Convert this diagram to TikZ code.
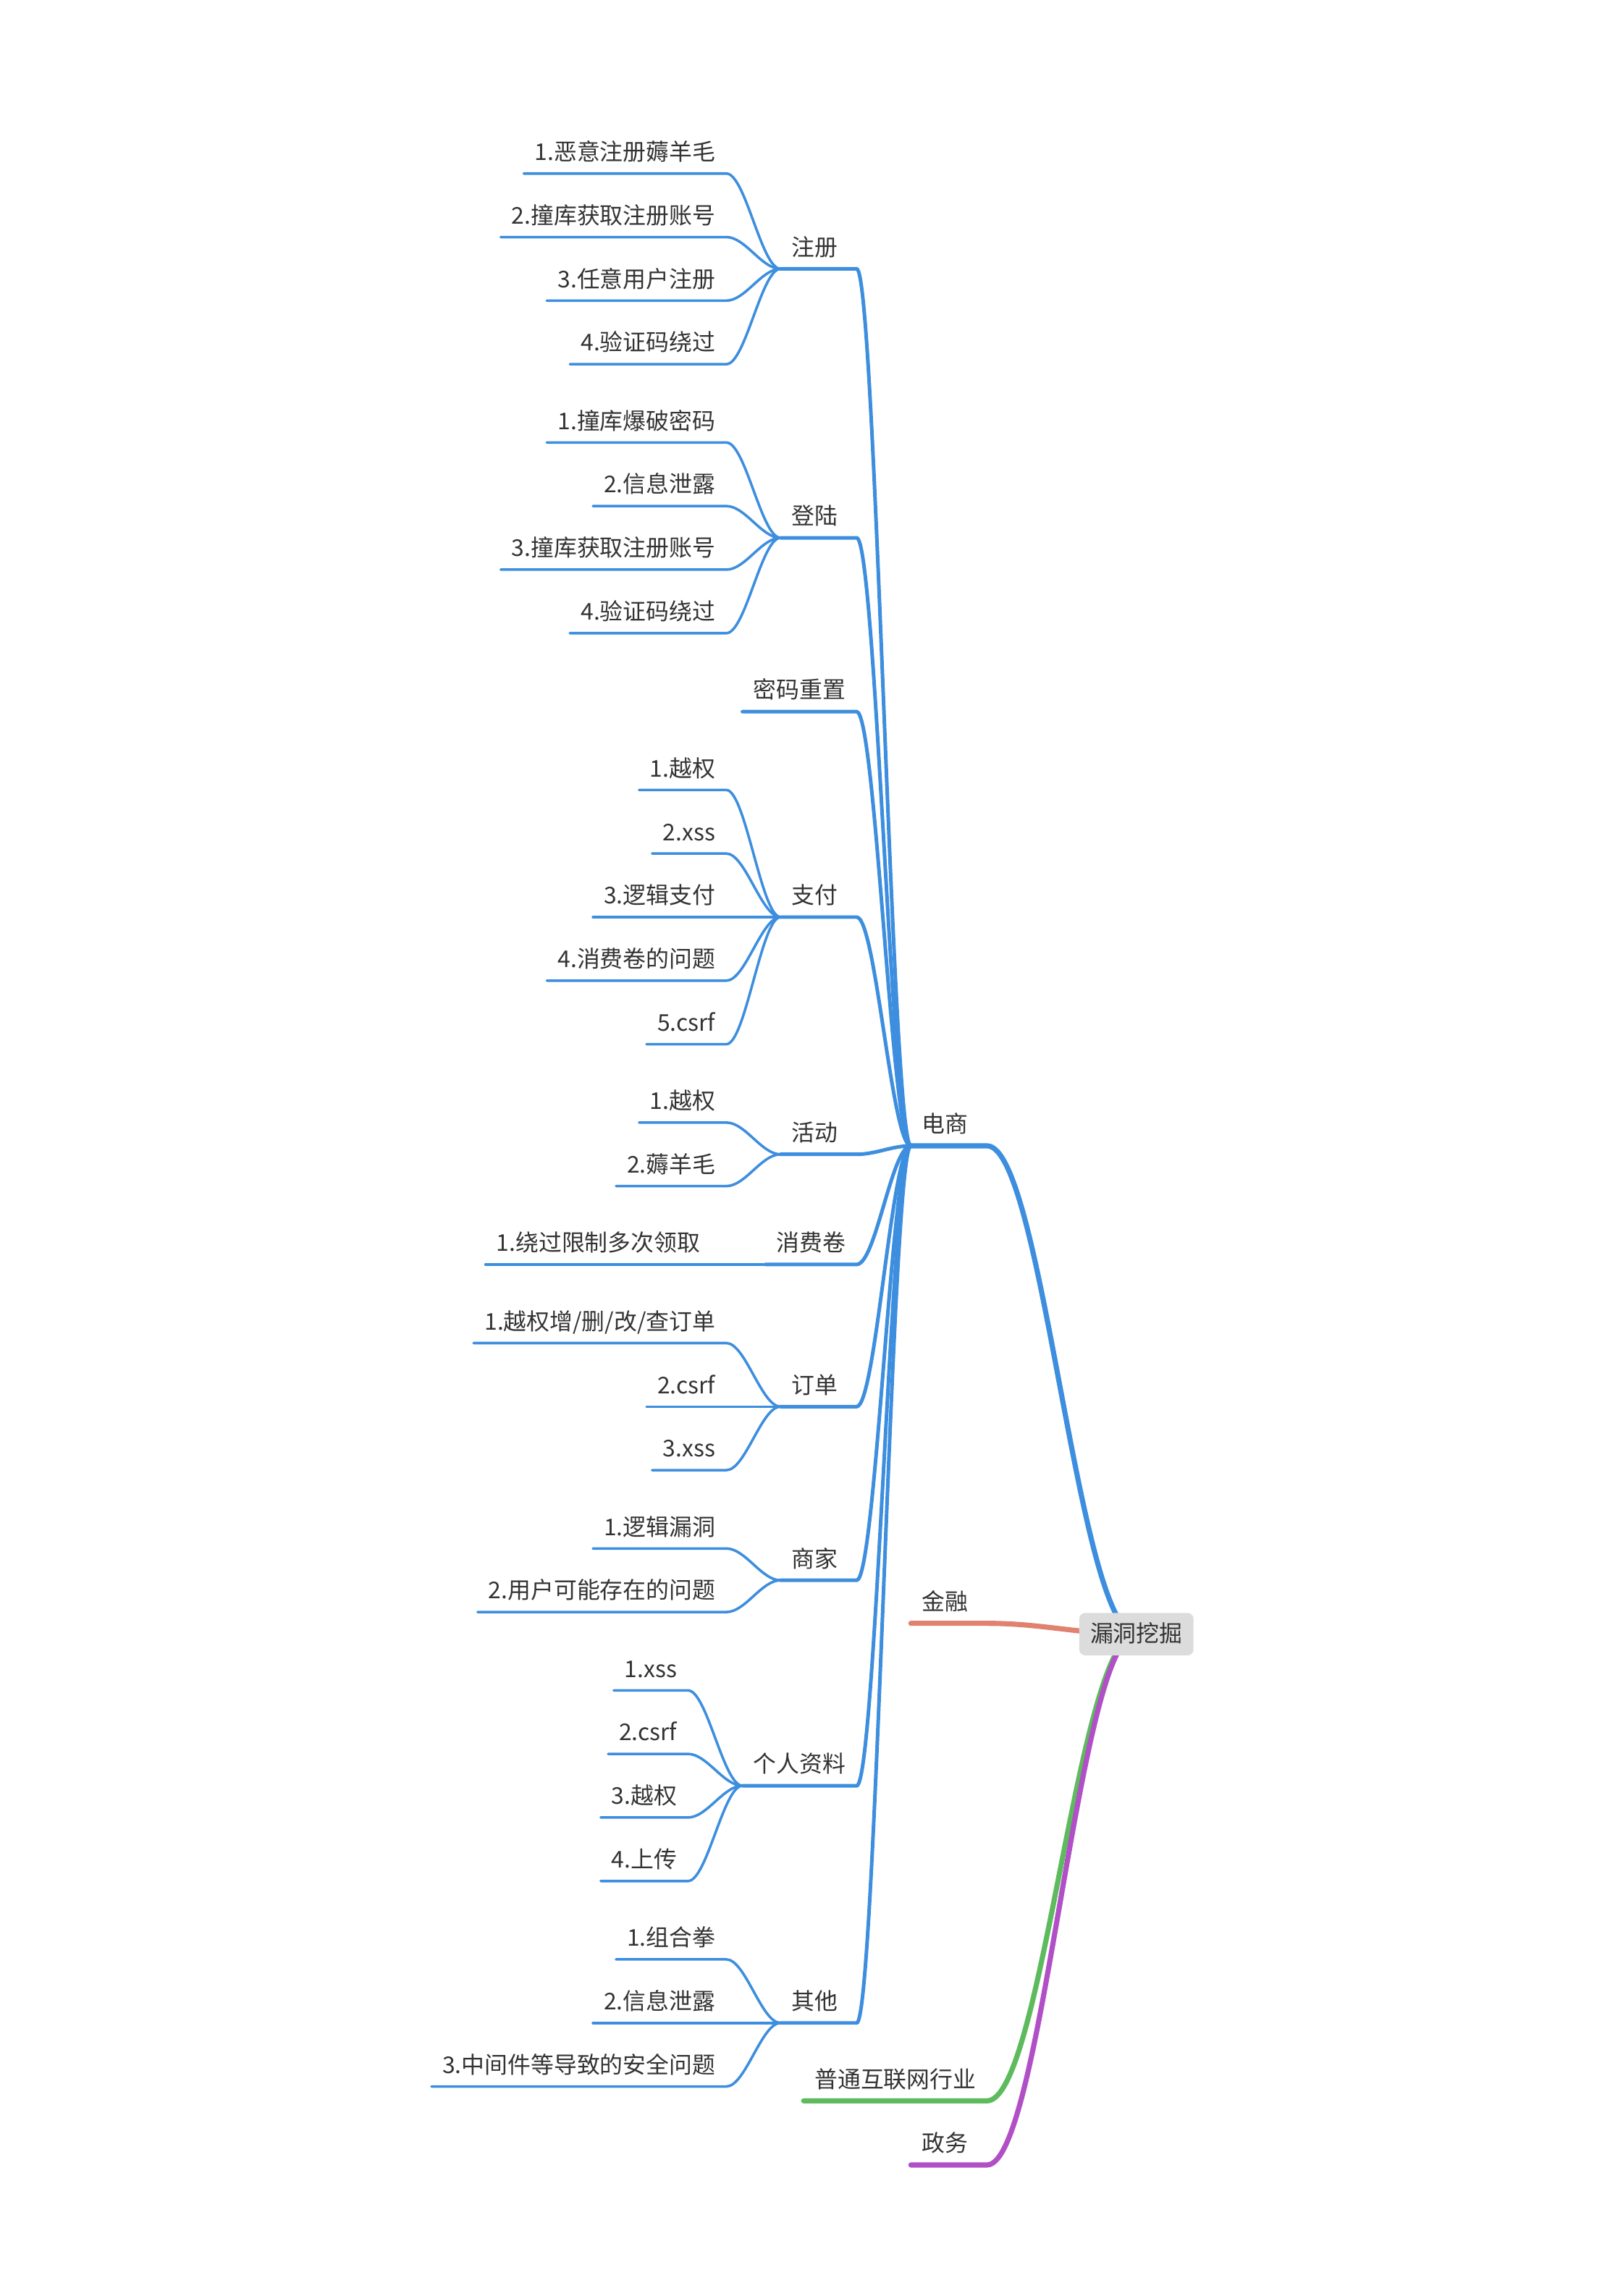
\documentclass[tikz,border=0pt]{standalone}
\usepackage{fontspec}
\setmainfont{Noto Sans CJK SC}
\usetikzlibrary{backgrounds}

\definecolor{blu}{HTML}{3D8EDE}
\definecolor{salmone}{HTML}{E0826F}
\definecolor{verde}{HTML}{5DBB5D}
\definecolor{viola}{HTML}{B14FC7}
\definecolor{testo}{HTML}{333333}
\definecolor{grigio}{HTML}{DCDCDC}

\tikzset{
	voce/.style={font=\fontsize{11.2pt}{13pt}\selectfont, text=testo, inner xsep=0.1875cm,
		inner ysep=0.165cm, text height=9.5pt, text depth=1.7pt, outer sep=0pt, anchor=south east},
	ramo/.style={voce, minimum width=1.3cm},
	corto/.style={ramo, text width=0.925cm, align=left},
	radice/.style={voce, anchor=center, fill=grigio, rounded corners=0.1cm, minimum width=1.88cm},
	l1/.style={line width=2.5pt, line cap=round},
	l2/.style={line width=1.75pt, line cap=round, blu},
	l3/.style={line width=1.25pt, line cap=round, blu}
}

\begin{document}
\begin{tikzpicture}[x=0.025cm, y=-0.025cm]
		\useasboundingbox (0,0) rectangle (1108,1568);
		
		%RADICE
		\node[radice] (loudong) at (776,1116) {漏洞挖掘};
		
		%PRIMO LIVELLO
		\node[corto] (dianshang) at (674,782.5) {电商};
		\node[corto] (jinrong) at (674,1108.6) {金融};
		\node[ramo] (hulianwang) at (674,1434.7) {普通互联网行业};
		\node[corto] (zhengwu) at (674,1478.5) {政务};
		
		%SECONDO LIVELLO
		\node[corto] (zhuce) at (585,183.6) {注册};
		\node[corto] (denglu) at (585,367.3) {登陆};
		\node[ramo] (mima) at (585,486) {密码重置};
		\node[corto] (zhifu) at (585,626.3) {支付};
		\node[corto] (huodong) at (585,788.3) {活动};
		\node[ramo] (xiaofei) at (585,863.5) {消费卷};
		\node[corto] (dingdan) at (585,960.6) {订单};
		\node[corto] (shangjia) at (585,1079.2) {商家};
		\node[ramo] (ziliao) at (585,1219.5) {个人资料};
		\node[corto] (qita) at (585,1381.5) {其他};
		
		%FOGLIE
		\node[voce] (zhuce1) at (496,118.5) {1.恶意注册薅羊毛};
		\node[voce] (zhuce2) at (496,161.9) {2.撞库获取注册账号};
		\node[voce] (zhuce3) at (496,205.3) {3.任意用户注册};
		\node[voce] (zhuce4) at (496,248.7) {4.验证码绕过};
		
		\node[voce] (denglu1) at (496,302.2) {1.撞库爆破密码};
		\node[voce] (denglu2) at (496,345.6) {2.信息泄露};
		\node[voce] (denglu3) at (496,389.0) {3.撞库获取注册账号};
		\node[voce] (denglu4) at (496,432.4) {4.验证码绕过};
		
		\node[voce] (zhifu1) at (496,539.5) {1.越权};
		\node[voce] (zhifu2) at (496,582.9) {2.xss};
		\node[voce] (zhifu3) at (496,626.3) {3.逻辑支付};
		\node[voce] (zhifu4) at (496,669.7) {4.消费卷的问题};
		\node[voce] (zhifu5) at (496,713.1) {5.csrf};
		
		\node[voce] (huodong1) at (496,766.6) {1.越权};
		\node[voce] (huodong2) at (496,810.0) {2.薅羊毛};
		
		\node[voce] (xiaofei1) at (485.6,863.5) {1.绕过限制多次领取};
		
		\node[voce] (dingdan1) at (496,917.2) {1.越权增/删/改/查订单};
		\node[voce] (dingdan2) at (496,960.6) {2.csrf};
		\node[voce] (dingdan3) at (496,1004.0) {3.xss};
		
		\node[voce] (shangjia1) at (496,1057.5) {1.逻辑漏洞};
		\node[voce] (shangjia2) at (496,1100.9) {2.用户可能存在的问题};
		
		\node[voce] (ziliao1) at (469.8,1154.4) {1.xss};
		\node[voce] (ziliao2) at (469.8,1197.8) {2.csrf};
		\node[voce] (ziliao3) at (469.8,1241.2) {3.越权};
		\node[voce] (ziliao4) at (469.8,1284.6) {4.上传};
		
		\node[voce] (qita1) at (496,1338.1) {1.组合拳};
		\node[voce] (qita2) at (496,1381.5) {2.信息泄露};
		\node[voce] (qita3) at (496,1424.9) {3.中间件等导致的安全问题};
		
		\begin{scope}[on background layer]
		%RAMI PRINCIPALI
		\draw[l1, blu] (dianshang.south west) -- (dianshang.south east) .. controls +(38,0) and +(-40,0) .. (loudong.center);
		\draw[l1, salmone] (jinrong.south west) -- (jinrong.south east) .. controls +(38,0) and +(-40,0) .. (loudong.center);
		\draw[l1, verde] (hulianwang.south west) -- (hulianwang.south east) .. controls +(38,0) and +(-40,0) .. (loudong.center);
		\draw[l1, viola] (zhengwu.south west) -- (zhengwu.south east) .. controls +(38,0) and +(-40,0) .. (loudong.center);
		
		%RAMI ECOMMERCE
		\draw[l2] (zhuce.south west) -- (zhuce.south east) .. controls +(13,0) and +(-13,0) .. (dianshang.south west);
		\draw[l2] (denglu.south west) -- (denglu.south east) .. controls +(13,0) and +(-13,0) .. (dianshang.south west);
		\draw[l2] (mima.south west) -- (mima.south east) .. controls +(13,0) and +(-13,0) .. (dianshang.south west);
		\draw[l2] (zhifu.south west) -- (zhifu.south east) .. controls +(13,0) and +(-13,0) .. (dianshang.south west);
		\draw[l2] (huodong.south west) -- (huodong.south east) .. controls +(13,0) and +(-13,0) .. (dianshang.south west);
		\draw[l2] (xiaofei.south west) -- (xiaofei.south east) .. controls +(13,0) and +(-13,0) .. (dianshang.south west);
		\draw[l2] (dingdan.south west) -- (dingdan.south east) .. controls +(13,0) and +(-13,0) .. (dianshang.south west);
		\draw[l2] (shangjia.south west) -- (shangjia.south east) .. controls +(13,0) and +(-13,0) .. (dianshang.south west);
		\draw[l2] (ziliao.south west) -- (ziliao.south east) .. controls +(13,0) and +(-13,0) .. (dianshang.south west);
		\draw[l2] (qita.south west) -- (qita.south east) .. controls +(13,0) and +(-13,0) .. (dianshang.south west);
		
		%FOGLIE
		\draw[l3] (zhuce1.south west) -- (zhuce1.south east) .. controls +(13,0) and +(-13,0) .. (zhuce.south west);
		\draw[l3] (zhuce2.south west) -- (zhuce2.south east) .. controls +(13,0) and +(-13,0) .. (zhuce.south west);
		\draw[l3] (zhuce3.south west) -- (zhuce3.south east) .. controls +(13,0) and +(-13,0) .. (zhuce.south west);
		\draw[l3] (zhuce4.south west) -- (zhuce4.south east) .. controls +(13,0) and +(-13,0) .. (zhuce.south west);
		
		\draw[l3] (denglu1.south west) -- (denglu1.south east) .. controls +(13,0) and +(-13,0) .. (denglu.south west);
		\draw[l3] (denglu2.south west) -- (denglu2.south east) .. controls +(13,0) and +(-13,0) .. (denglu.south west);
		\draw[l3] (denglu3.south west) -- (denglu3.south east) .. controls +(13,0) and +(-13,0) .. (denglu.south west);
		\draw[l3] (denglu4.south west) -- (denglu4.south east) .. controls +(13,0) and +(-13,0) .. (denglu.south west);
		
		\draw[l3] (zhifu1.south west) -- (zhifu1.south east) .. controls +(13,0) and +(-13,0) .. (zhifu.south west);
		\draw[l3] (zhifu2.south west) -- (zhifu2.south east) .. controls +(13,0) and +(-13,0) .. (zhifu.south west);
		\draw[l3] (zhifu3.south west) -- (zhifu3.south east) .. controls +(13,0) and +(-13,0) .. (zhifu.south west);
		\draw[l3] (zhifu4.south west) -- (zhifu4.south east) .. controls +(13,0) and +(-13,0) .. (zhifu.south west);
		\draw[l3] (zhifu5.south west) -- (zhifu5.south east) .. controls +(13,0) and +(-13,0) .. (zhifu.south west);
		
		\draw[l3] (huodong1.south west) -- (huodong1.south east) .. controls +(13,0) and +(-13,0) .. (huodong.south west);
		\draw[l3] (huodong2.south west) -- (huodong2.south east) .. controls +(13,0) and +(-13,0) .. (huodong.south west);
		
		\draw[l3] (xiaofei1.south west) -- (xiaofei1.south east) -- (xiaofei.south west);
		
		\draw[l3] (dingdan1.south west) -- (dingdan1.south east) .. controls +(13,0) and +(-13,0) .. (dingdan.south west);
		\draw[l3] (dingdan2.south west) -- (dingdan2.south east) .. controls +(13,0) and +(-13,0) .. (dingdan.south west);
		\draw[l3] (dingdan3.south west) -- (dingdan3.south east) .. controls +(13,0) and +(-13,0) .. (dingdan.south west);
		
		\draw[l3] (shangjia1.south west) -- (shangjia1.south east) .. controls +(13,0) and +(-13,0) .. (shangjia.south west);
		\draw[l3] (shangjia2.south west) -- (shangjia2.south east) .. controls +(13,0) and +(-13,0) .. (shangjia.south west);
		
		\draw[l3] (ziliao1.south west) -- (ziliao1.south east) .. controls +(13,0) and +(-13,0) .. (ziliao.south west);
		\draw[l3] (ziliao2.south west) -- (ziliao2.south east) .. controls +(13,0) and +(-13,0) .. (ziliao.south west);
		\draw[l3] (ziliao3.south west) -- (ziliao3.south east) .. controls +(13,0) and +(-13,0) .. (ziliao.south west);
		\draw[l3] (ziliao4.south west) -- (ziliao4.south east) .. controls +(13,0) and +(-13,0) .. (ziliao.south west);
		
		\draw[l3] (qita1.south west) -- (qita1.south east) .. controls +(13,0) and +(-13,0) .. (qita.south west);
		\draw[l3] (qita2.south west) -- (qita2.south east) .. controls +(13,0) and +(-13,0) .. (qita.south west);
		\draw[l3] (qita3.south west) -- (qita3.south east) .. controls +(13,0) and +(-13,0) .. (qita.south west);
		\end{scope}
	\end{tikzpicture}
\end{document}
